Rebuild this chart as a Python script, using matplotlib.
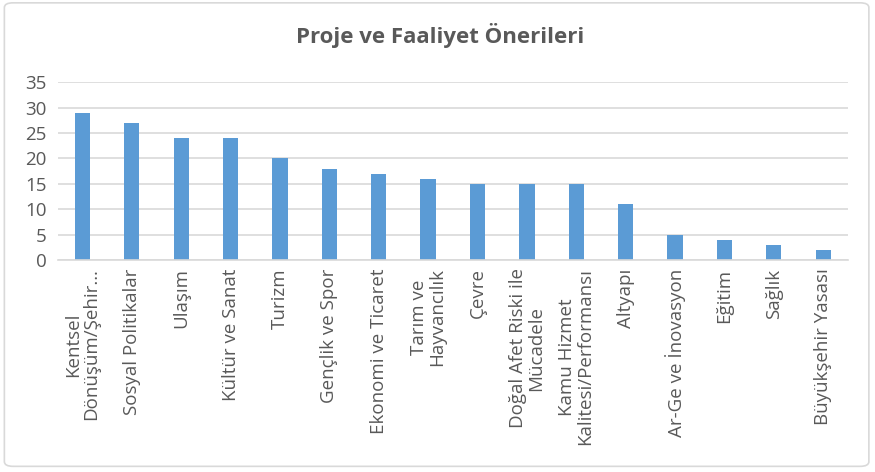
import matplotlib
matplotlib.use("Agg")
import matplotlib.pyplot as plt
from matplotlib.patches import FancyBboxPatch

categories = [
    "Kentsel\nDönüşüm/Şehir…", "Sosyal Politikalar", "Ulaşım", "Kültür ve Sanat",
    "Turizm", "Gençlik ve Spor", "Ekonomi ve Ticaret", "Tarım ve\nHayvancılık",
    "Çevre", "Doğal Afet Riski ile\nMücadele", "Kamu Hizmet\nKalitesi/Performansı",
    "Altyapı", "Ar-Ge ve İnovasyon", "Eğitim", "Sağlık", "Büyükşehir Yasası",
]
values = [29, 27, 24, 24, 20, 18, 17, 16, 15, 15, 15, 11, 5, 4, 3, 2]
yticks = [0, 5, 10, 15, 20, 25, 30, 35]
title = "Proje ve Faaliyet Önerileri"

plt.rcParams['font.family'] = ['Open Sans', 'DejaVu Sans']
txt = '#595959'
grid = '#d9d9d9'

fig = plt.figure(figsize=(8.75, 4.72), dpi=100)
border = FancyBboxPatch((0.005, 0.012), 0.988, 0.982, boxstyle="round,pad=0,rounding_size=0.01",
                        transform=fig.transFigure, fill=False, edgecolor='#d9d9d9', linewidth=1.2)
fig.patches.append(border)

ax = fig.add_axes([0.066, 0.449, 0.903, 0.377])
x = list(range(len(categories)))
ax.bar(x, values, width=0.31, color='#5b9bd5', zorder=3)
ax.set_xlim(-0.5, len(categories) - 0.5)
ax.set_ylim(0, 35)
ax.set_yticks(yticks)
ax.set_xticks(x)
ax.set_xticklabels(categories, rotation=90, ha='center', va='top', multialignment='center',
                   fontsize=13.5, color=txt, linespacing=1.0)
ax.tick_params(axis='y', length=0, labelsize=13.5, labelcolor=txt, pad=8)
ax.tick_params(axis='x', length=0, pad=6)
ax.yaxis.grid(True, color=grid, linewidth=1.2, zorder=0)
for s in ['top', 'right', 'left']:
    ax.spines[s].set_visible(False)
ax.spines['bottom'].set_color(grid)
ax.spines['bottom'].set_linewidth(1.2)
ax.spines['bottom'].set_zorder(4)

fig.text(0.503, 0.925, title, ha='center', va='center', fontsize=16, fontweight='bold', color=txt)

fig.savefig("out.png", dpi=100)
